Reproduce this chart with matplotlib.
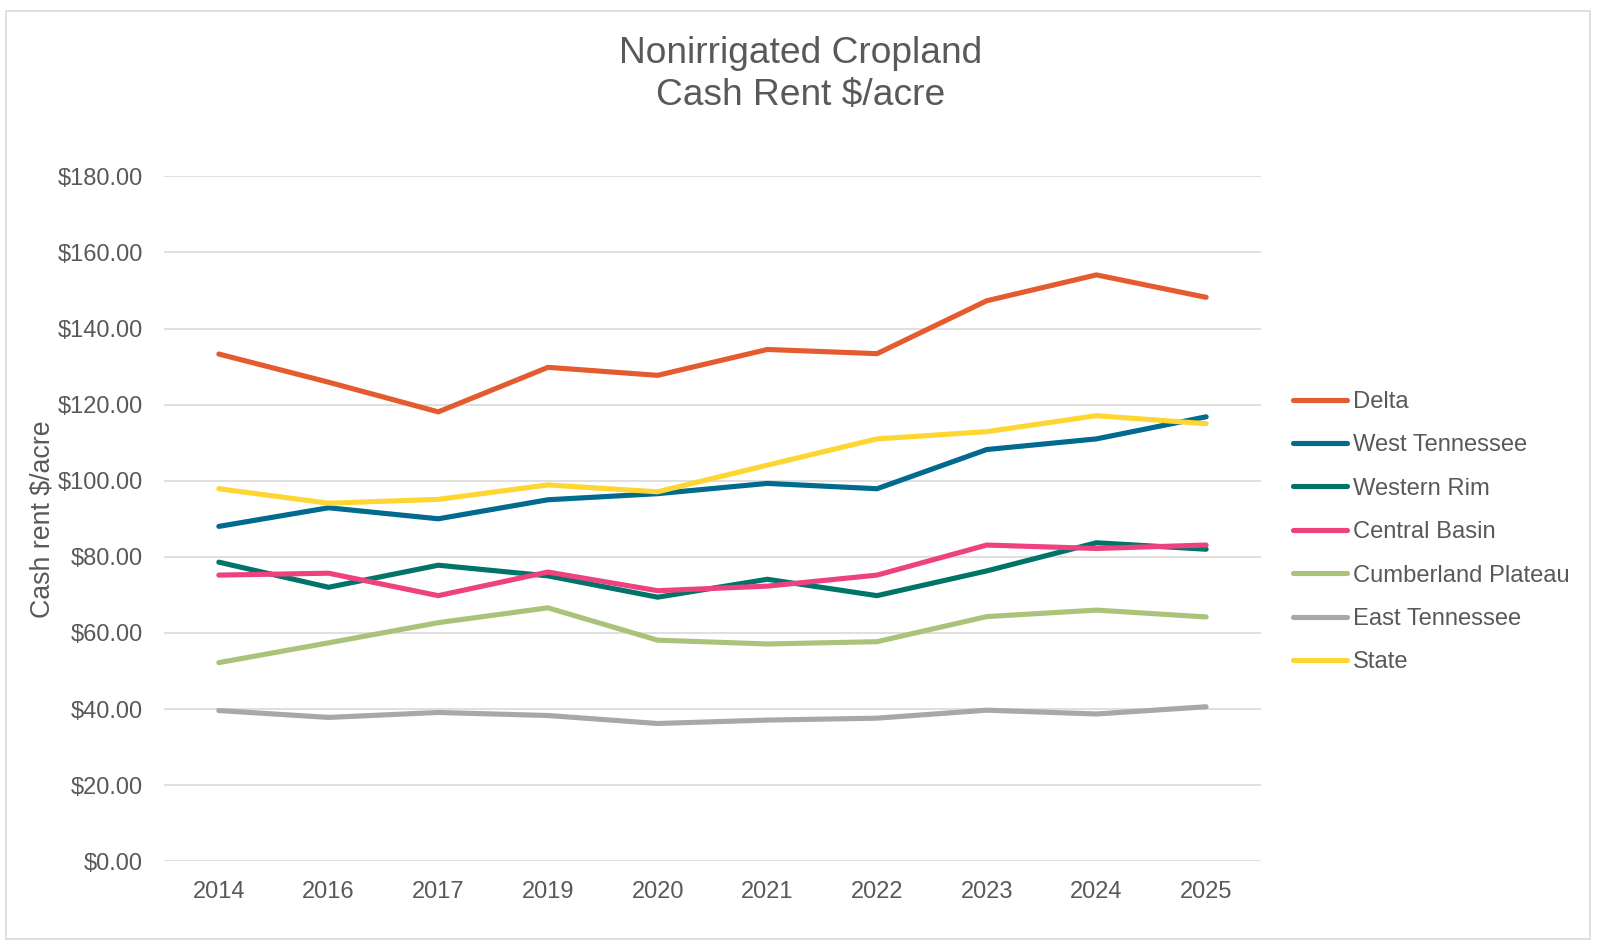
import matplotlib
matplotlib.use("Agg")
import matplotlib.pyplot as plt
from matplotlib.patches import Rectangle

years = ["2014", "2016", "2017", "2019", "2020", "2021", "2022", "2023", "2024", "2025"]

delta = [133.3, 125.9, 118.1, 129.8, 127.7, 134.5, 133.4, 147.3, 154.1, 148.2]
west_tennessee = [88.0, 92.9, 90.0, 95.0, 96.6, 99.3, 97.9, 108.2, 111.0, 116.8]
western_rim = [78.6, 72.0, 77.8, 75.0, 69.4, 74.1, 69.8, 76.3, 83.7, 82.0]
central_basin = [75.2, 75.7, 69.8, 76.0, 71.1, 72.3, 75.2, 83.1, 82.2, 83.1]
cumberland_plateau = [52.2, 57.4, 62.7, 66.6, 58.1, 57.1, 57.7, 64.3, 66.0, 64.2]
east_tennessee = [39.6, 37.8, 39.1, 38.3, 36.2, 37.1, 37.6, 39.7, 38.7, 40.6]
state = [97.9, 94.1, 95.1, 98.9, 97.1, 104.1, 111.0, 112.9, 117.1, 115.0]

series = [
    ("Delta", delta, "#E55B30"),
    ("West Tennessee", west_tennessee, "#006A8F"),
    ("Western Rim", western_rim, "#007468"),
    ("Central Basin", central_basin, "#EE4180"),
    ("Cumberland Plateau", cumberland_plateau, "#A9C47A"),
    ("East Tennessee", east_tennessee, "#A7A7AC"),
    ("State", state, "#FED631"),
]

plt.rcParams['font.family'] = ['Liberation Sans', 'DejaVu Sans']
text_color = "#595959"

fig = plt.figure(figsize=(16, 9.43), dpi=100)
ax = fig.add_axes([0.1025, 0.0867, 0.6856, 0.7263])

x = range(len(years))
for name, vals, col in series:
    ax.plot(x, vals, color=col, lw=3.7, label=name, solid_capstyle='round', solid_joinstyle='round')

ax.set_xlim(-0.5, len(years) - 0.5)
ax.set_ylim(0, 180)
ax.set_yticks(range(0, 181, 20))
ax.set_yticklabels([f"${v:.2f}" for v in range(0, 181, 20)])
ax.set_xticks(list(x))
ax.set_xticklabels(years)
ax.tick_params(axis='both', length=0, labelsize=17, colors=text_color)
ax.tick_params(axis='x', pad=14)
ax.tick_params(axis='y', pad=15)
ax.grid(axis='y', color="#D9D9D9", lw=1.2)
ax.set_axisbelow(True)
for s in ax.spines.values():
    s.set_visible(False)

ax.set_ylabel("Cash rent $/acre", fontsize=19.3, color=text_color, labelpad=2)

fig.text(0.5006, 0.921, "Nonirrigated Cropland\nCash Rent $/acre", ha='center', va='center',
         fontsize=26.7, color=text_color, linespacing=1.27)

fig.legend(loc='center left', bbox_to_anchor=(0.795, 0.4357), frameon=False,
           fontsize=17.1, handlelength=2.25, handletextpad=0.25, labelspacing=0.9,
           labelcolor=text_color)

fig.patches.append(Rectangle((0.004, 0.004), 0.99, 0.984, transform=fig.transFigure,
                             fill=False, edgecolor="#D9D9D9", lw=1.2))

fig.savefig("out.png", dpi=100, facecolor='white')
